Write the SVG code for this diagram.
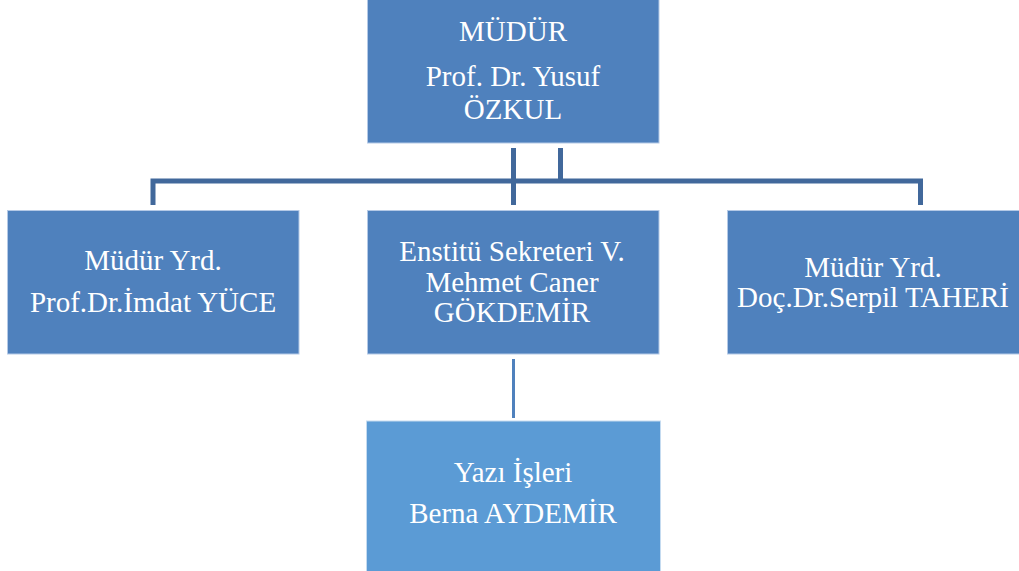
<svg xmlns="http://www.w3.org/2000/svg" width="1019" height="571" viewBox="0 0 1019 571">
<style>
.box{fill:#4f81bd;stroke:#b4c9e6;stroke-width:1}
.box2{fill:#5b9bd5;stroke:#c5dbf0;stroke-width:1}
.t{font-family:"Liberation Serif","Times New Roman",serif;font-size:29px;fill:#ffffff;text-anchor:middle}
.c{stroke:#41689b;stroke-width:5;fill:none}
.c2{stroke:#4f81bd;stroke-width:3;fill:none}
</style>
<rect width="1019" height="571" fill="#ffffff"/>
<g id="connectors">
<path class="c" d="M513.5 148V205"/>
<path class="c" d="M560.5 148V181"/>
<path class="c" d="M153 205V181H920.5V205"/>
<path class="c2" d="M513.5 359V418"/>
</g>
<g id="mudur">
<rect class="box" x="367.5" y="-1" width="291.5" height="144"/>
<text class="t" x="513" y="41">MÜDÜR</text>
<text class="t" x="513" y="86">Prof. Dr. Yusuf</text>
<text class="t" x="513" y="119">ÖZKUL</text>
</g>
<g id="yrd1">
<rect class="box" x="7.5" y="210.5" width="291.5" height="143.5"/>
<text class="t" x="153" y="270">Müdür Yrd.</text>
<text class="t" x="153" y="312">Prof.Dr.İmdat YÜCE</text>
</g>
<g id="sekreter">
<rect class="box" x="367.5" y="210.5" width="291.5" height="143.5"/>
<text class="t" x="512" y="261">Enstitü Sekreteri V.</text>
<text class="t" x="512" y="292">Mehmet Caner</text>
<text class="t" x="512" y="322">GÖKDEMİR</text>
</g>
<g id="yrd2">
<rect class="box" x="727.5" y="210.5" width="293" height="143.5"/>
<text class="t" x="873" y="277">Müdür Yrd.</text>
<text class="t" x="873" y="307">Doç.Dr.Serpil TAHERİ</text>
</g>
<g id="yazi">
<rect class="box2" x="366.5" y="421" width="294" height="152"/>
<text class="t" x="513" y="482">Yazı İşleri</text>
<text class="t" x="513" y="523">Berna AYDEMİR</text>
</g>
</svg>
